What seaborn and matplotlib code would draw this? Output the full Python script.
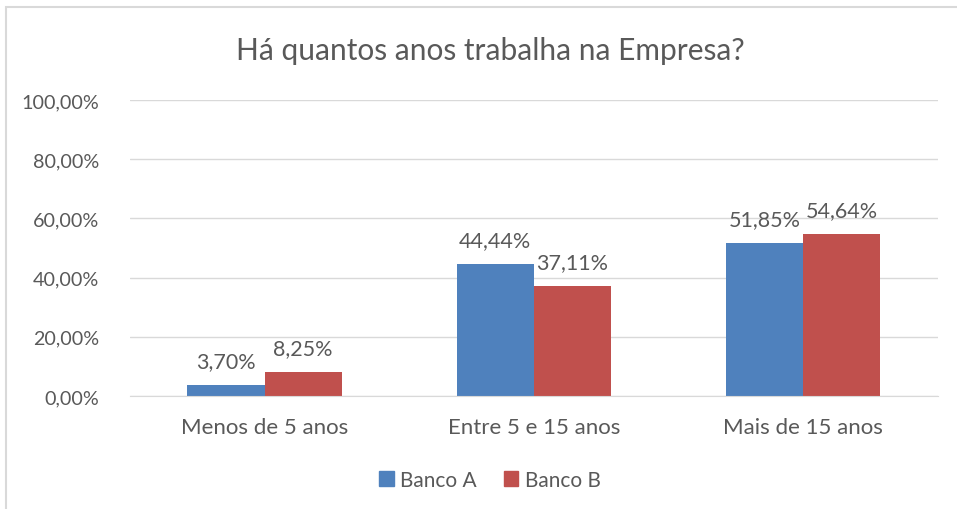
import matplotlib
matplotlib.use("Agg")
import matplotlib.pyplot as plt
import seaborn as sns
import pandas as pd
from matplotlib.patches import Rectangle

categories = ["Menos de 5 anos", "Entre 5 e 15 anos", "Mais de 15 anos"]
banco_a = [3.70, 44.44, 51.85]
banco_b = [8.25, 37.11, 54.64]
series_names = ["Banco A", "Banco B"]
yticks = [0, 20, 40, 60, 80, 100]

sns.set_style("white")
plt.rcParams["font.family"] = ["Lato", "DejaVu Sans"]
text_color = "#595959"
colors = ["#4F81BD", "#C0504D"]

df = pd.DataFrame({
    "categoria": categories * 2,
    "valor": banco_a + banco_b,
    "serie": [series_names[0]] * 3 + [series_names[1]] * 3,
})

fig = plt.figure(figsize=(9.57, 5.10), dpi=100)
ax = fig.add_axes([0.1358, 0.2216, 0.8442, 0.5804])

sns.barplot(data=df, x="categoria", y="valor", hue="serie", palette=colors,
            width=0.573, gap=0, saturation=1, linewidth=0, ax=ax, legend=False)

def fmt(v):
    return f"{v:.2f}".replace(".", ",") + "%"

for cont in ax.containers:
    ax.bar_label(cont, labels=[fmt(v) for v in cont.datavalues], padding=10,
                 fontsize=15.5, color=text_color)

ax.set_ylim(0, 100)
ax.set_yticks(yticks)
ax.set_yticklabels([fmt(v) for v in yticks])
ax.set_xlim(-0.5, 2.5)
ax.yaxis.grid(True, color="#D9D9D9", linewidth=1)
ax.set_axisbelow(True)
for s in ["top", "right", "left"]:
    ax.spines[s].set_visible(False)
ax.spines["bottom"].set_color("#D9D9D9")
ax.tick_params(axis="x", length=0, labelsize=16, colors=text_color, pad=15)
ax.tick_params(axis="y", length=0, labelsize=14.2, colors=text_color, pad=22)
ax.set_xlabel("")
ax.set_ylabel("")

fig.text(0.512, 0.900, "Há quantos anos trabalha na Empresa?", ha="center",
         va="center", fontsize=21.5, color=text_color)

handles = [Rectangle((0, 0), 1, 1, color=c) for c in colors]
fig.legend(handles, series_names, loc="center", bbox_to_anchor=(0.512, 0.057),
           ncol=2, frameon=False, fontsize=15, labelcolor=text_color,
           handlelength=0.7, handleheight=0.7, handletextpad=0.3, columnspacing=1.3)

fig.patches.append(Rectangle((6 / 957, -0.1), 1.2, 1.1 - 8 / 510, transform=fig.transFigure,
                             fill=False, edgecolor="#D9D9D9", linewidth=1.5))

fig.savefig("out.png", dpi=100)
